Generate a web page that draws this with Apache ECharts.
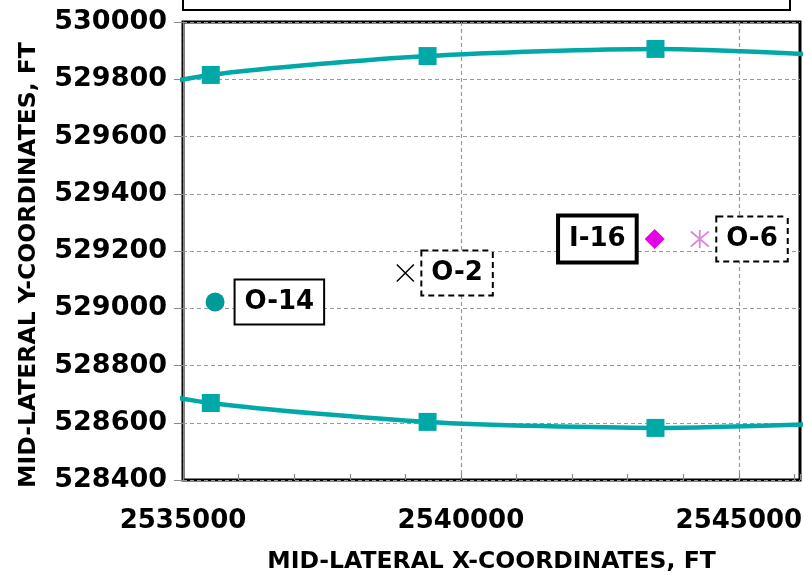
<!DOCTYPE html>
<html><head><meta charset="utf-8">
<script src="https://cdn.jsdelivr.net/npm/echarts@6/dist/echarts.min.js"></script>
<style>html,body{margin:0;padding:0;background:#fff}#c{width:804px;height:575px}</style>
</head><body><div id="c"></div>
<script>
// ---- data ----
const upperX = [2533000, 2535500, 2539400, 2543500, 2548000];
const upperY = [529720, 529815, 529881, 529906, 529870];
const lowerX = [2533000, 2535500, 2539400, 2543500, 2548000];
const lowerY = [528760, 528669, 528603, 528582, 528607];
const wellNames = ['O-14', 'O-2', 'I-16', 'O-6'];
const wellX = [2535577, 2539000, 2543486, 2544297];
const wellY = [529022, 529123, 529242, 529242];
const xRange = [2535000, 2546100];
const yRange = [528400, 530000];
const xMajor = 5000, xMinor = 1000, yStep = 200;

const FONT = 'DejaVu Sans';
const teal = '#00A9A8';

function lineData(xs, ys) {
  return xs.map((x, i) => {
    const inside = x >= xRange[0] && x <= xRange[1];
    return inside ? [x, ys[i]] : { value: [x, ys[i]], symbol: 'none' };
  });
}
const xFmt = v => (v % xMajor === 0 ? String(Math.round(v)) : '');
const yFmt = v => String(Math.round(v));

const labelBase = {
  show: true, formatter: '{b}', fontFamily: FONT, fontWeight: 'bold', fontSize: 26,
  color: '#000', backgroundColor: '#fff', borderColor: '#000', borderWidth: 2,
  padding: [7, 9, 6, 9], lineHeight: 30, opacity: 1
};

const chart = echarts.init(document.getElementById('c'));
chart.setOption({
  animation: false,
  backgroundColor: '#fff',
  grid: { left: 183, top: 22, right: 4, bottom: 95, outerBoundsMode: 'none', containLabel: false,
          show: true, borderColor: '#000', borderWidth: 3, backgroundColor: 'transparent' },
  graphic: [{ type: 'rect', shape: { x: 183, y: -20, width: 607, height: 30 }, style: { fill: '#fff', stroke: '#000', lineWidth: 2 }, z: 10 }],
  xAxis: [{
    type: 'value', min: xRange[0], max: xRange[1], interval: xMajor,
    name: 'MID-LATERAL X-COORDINATES, FT', nameLocation: 'middle', nameGap: 70,
    nameTextStyle: { fontFamily: FONT, fontWeight: 'bold', fontSize: 23.5, color: '#000' },
    axisLine: { show: false }, axisTick: { show: false },
    axisLabel: { margin: 28, showMaxLabel: false, formatter: xFmt, fontFamily: FONT, fontWeight: 'bold', fontSize: 26, color: '#000' },
    splitLine: { show: true, showMaxLine: false, lineStyle: { type: [4, 3], color: '#999', width: 1.2 } }
  }, {
    type: 'value', min: xRange[0], max: xRange[1], interval: xMinor, position: 'bottom',
    axisLine: { show: false }, axisLabel: { show: false }, splitLine: { show: false },
    axisTick: { show: true, inside: true, length: 6, lineStyle: { color: '#888', width: 1.2 } }
  }],
  yAxis: {
    type: 'value', min: yRange[0], max: yRange[1], interval: yStep,
    name: 'MID-LATERAL Y-COORDINATES, FT', nameLocation: 'middle', nameGap: 142,
    nameTextStyle: { fontFamily: FONT, fontWeight: 'bold', fontSize: 23.5, color: '#000', padding: [0, 28, 0, 0] },
    axisLine: { show: true, onZero: false, lineStyle: { color: '#888', width: 1 } },
    axisTick: { show: true, length: 9, lineStyle: { color: '#888' } },
    axisLabel: { margin: 16, formatter: yFmt, fontFamily: FONT, fontWeight: 'bold', fontSize: 27, color: '#000' },
    splitLine: { show: true, lineStyle: { type: [4, 3], color: '#999', width: 1.2 } }
  },
  series: [
    { type: 'line', data: lineData(upperX, upperY), smooth: 0.25, clip: true,
      symbol: 'rect', symbolSize: 18, itemStyle: { color: teal }, lineStyle: { color: teal, width: 4.5 }, z: 3 },
    { type: 'line', data: lineData(lowerX, lowerY), smooth: 0.25, clip: true,
      symbol: 'rect', symbolSize: 18, itemStyle: { color: teal }, lineStyle: { color: teal, width: 4.5 }, z: 3 },
    { type: 'scatter', z: 5, symbol: 'circle', symbolSize: 19, itemStyle: { color: '#009B99', opacity: 1 },
      data: [{ name: wellNames[0], value: [wellX[0], wellY[0]] }],
      label: Object.assign({}, labelBase, { position: 'right', distance: 11 }) },
    { type: 'scatter', z: 5, symbol: 'path://M0,0L10,10M10,0L0,10', symbolSize: 17,
      itemStyle: { color: 'none', borderColor: '#000', borderWidth: 1.5, opacity: 1 },
      data: [{ name: wellNames[1], value: [wellX[1], wellY[1]] }],
      label: Object.assign({}, labelBase, { position: 'right', distance: 6, borderType: [6, 4] }) },
    { type: 'scatter', z: 5, symbol: 'diamond', symbolSize: 20, itemStyle: { color: '#E600E6', opacity: 1 },
      data: [{ name: wellNames[2], value: [wellX[2], wellY[2]] }],
      label: Object.assign({}, labelBase, { position: 'left', distance: 10, borderWidth: 4 }) },
    { type: 'scatter', z: 5, symbol: 'path://M0,0L10,10M10,0L0,10M5,-1L5,11', symbolSize: 18,
      itemStyle: { color: 'none', borderColor: '#DD88DD', borderWidth: 1.8, opacity: 1 },
      data: [{ name: wellNames[3], value: [wellX[3], wellY[3]] }],
      label: Object.assign({}, labelBase, { position: 'right', distance: 6, borderType: [6, 4] }) }
  ]
});
</script></body></html>
